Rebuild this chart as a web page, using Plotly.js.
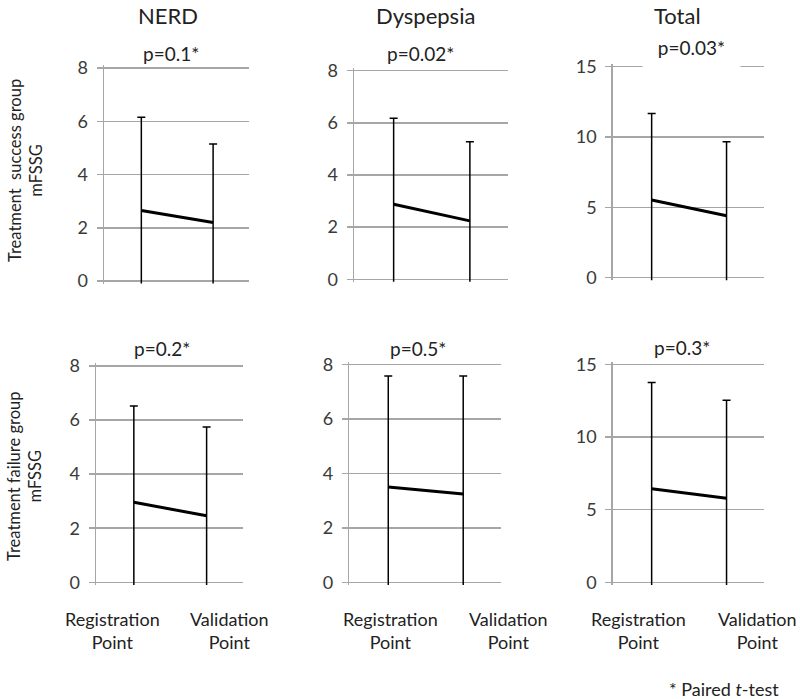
<!DOCTYPE html>
<html>
<head>
<meta charset="utf-8">
<script src="https://cdn.plot.ly/plotly-3.0.1.min.js"></script>
<style>
  body { margin: 0; background: #fff; }
  #chart { width: 800px; height: 699px; }
</style>
</head>
<body>
<div id="chart"></div>
<script>
const timePoints = ['Registration Point', 'Validation Point'];
const groups = ['NERD', 'Dyspepsia', 'Total'];
const pValuesSuccess = ['p=0.1*', 'p=0.02*', 'p=0.03*'];
const pValuesFailure = ['p=0.2*', 'p=0.5*', 'p=0.3*'];

// Treatment success group: mean mFSSG and SD
const nerdSuccessMean = [2.65, 2.2];
const nerdSuccessSD = [3.5, 2.95];
const dyspepsiaSuccessMean = [2.88, 2.24];
const dyspepsiaSuccessSD = [3.3, 3.04];
const totalSuccessMean = [5.52, 4.41];
const totalSuccessSD = [6.16, 5.26];

// Treatment failure group
const nerdFailureMean = [2.96, 2.46];
const nerdFailureSD = [3.56, 3.28];
const dyspepsiaFailureMean = [3.5, 3.24];
const dyspepsiaFailureSD = [4.07, 4.33];
const totalFailureMean = [6.44, 5.78];
const totalFailureSD = [7.3, 6.74];

const fontFamily = 'Lato, "Open Sans", sans-serif';
const textColor = '#222222';
const gridColor = '#a6a6a6';

const W = 800;
const H = 699;
function px(x) { return x / W; }
function py(y) { return 1 - y / H; }

function makeTrace(means, sds, n) {
    return {
        x: [0, 1],
        y: means,
        text: timePoints,
        type: 'scatter',
        mode: 'lines',
        line: {color: '#000', width: 3},
        error_y: {type: 'data', array: sds, visible: true, color: '#000', thickness: 1.5, width: 4},
        xaxis: 'x' + n,
        yaxis: 'y' + n,
        cliponaxis: true,
        showlegend: false
    };
}

const data = [
    makeTrace(nerdSuccessMean, nerdSuccessSD, 1),
    makeTrace(dyspepsiaSuccessMean, dyspepsiaSuccessSD, 2),
    makeTrace(totalSuccessMean, totalSuccessSD, 3),
    makeTrace(nerdFailureMean, nerdFailureSD, 4),
    makeTrace(dyspepsiaFailureMean, dyspepsiaFailureSD, 5),
    makeTrace(totalFailureMean, totalFailureSD, 6)
];

// panel boxes in pixels: [left, right, top(gridline max), bottom(gridline 0)]
const panels = [
    [104, 249, 68, 281],
    [354, 508, 70.7, 279.3],
    [612.7, 764, 66.7, 277.7],
    [96, 243, 366, 582.3],
    [349.3, 500.7, 364.3, 582.3],
    [612.7, 764, 364.3, 582.3]
];
const yMax = [8, 8, 15, 8, 8, 15];
const yStep = [2, 2, 5, 2, 2, 5];

const layout = {
    width: W,
    height: H,
    margin: {l: 0, r: 0, t: 0, b: 0},
    paper_bgcolor: '#fff',
    plot_bgcolor: '#fff',
    font: {family: fontFamily, color: textColor},
    annotations: [],
    showlegend: false
};

for (let i = 0; i < 6; i++) {
    const p = panels[i];
    const n = i + 1;
    // plotly drops gridlines sitting right on the plot edge, so pad the range a bit
    const pad = yMax[i] * 0.012;
    const padPx = pad * (p[3] - p[2]) / yMax[i];
    layout['xaxis' + n] = {
        domain: [px(p[0]), px(p[1])],
        range: [-0.52, 1.5],
        anchor: 'y' + n,
        showgrid: false,
        zeroline: false,
        showline: false,
        showticklabels: false,
        ticks: ''
    };
    layout['yaxis' + n] = {
        domain: [py(p[3] + padPx), py(p[2] - padPx)],
        range: [-pad, yMax[i] + pad],
        tick0: 0,
        dtick: yStep[i],
        anchor: 'x' + n,
        showgrid: true,
        gridcolor: gridColor,
        gridwidth: 1.5,
        zeroline: false,
        showline: true,
        linecolor: gridColor,
        linewidth: 1.5,
        ticks: 'outside',
        ticklen: 6,
        tickwidth: 1.5,
        tickcolor: gridColor,
        ticklabelstandoff: 5,
        tickfont: {size: 18, color: '#3a3a3a', family: fontFamily}
    };
}

function addText(text, x, y, size, extra) {
    const a = {
        text: text,
        xref: 'paper', yref: 'paper',
        x: px(x), y: py(y),
        xanchor: 'center', yanchor: 'middle',
        showarrow: false,
        font: {size: size, color: textColor, family: fontFamily}
    };
    Object.assign(a, extra || {});
    layout.annotations.push(a);
}

// column titles
const titleX = [168, 425, 677];
for (let i = 0; i < 3; i++) {
    addText(groups[i], titleX[i], 16, 22);
}

// p values
addText(pValuesSuccess[0], 171, 53, 19);
addText(pValuesSuccess[1], 420, 53, 19);
// this one sits on the top gridline and hides part of it
addText(pValuesSuccess[2], 691, 35, 19, {yanchor: 'top', bgcolor: '#fff', width: 97, height: 37, valign: 'top', borderpad: 0});
addText(pValuesFailure[0], 162, 348, 19);
addText(pValuesFailure[1], 418, 348, 19);
addText(pValuesFailure[2], 682, 347, 19);

// y axis titles
addText('Treatment  success group<br>mFSSG', 25, 171, 16.5, {textangle: -90});
addText('Treatment failure group<br>mFSSG', 24, 477, 16.5, {textangle: -90});

// x labels under bottom row
const labelX = [[112.7, 229], [390, 508], [638, 757]];
for (let g of labelX) {
    addText('Registration<br>Point', g[0], 630, 18);
    addText('Validation<br>Point', g[1], 630, 18);
}

addText('* Paired <i>t</i>-test', 781, 689, 18, {xanchor: 'right'});

Plotly.newPlot('chart', data, layout, {staticPlot: true});
</script>
</body>
</html>
